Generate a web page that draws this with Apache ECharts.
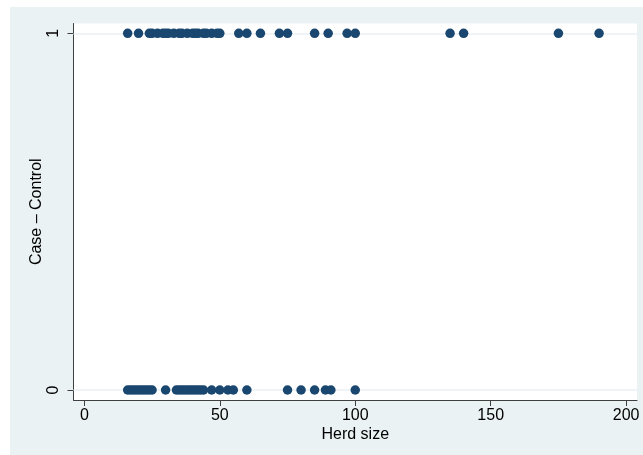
<!DOCTYPE html>
<html><head><meta charset="utf-8">
<script src="https://cdn.jsdelivr.net/npm/echarts@6/dist/echarts.min.js"></script>
<style>html,body{margin:0;padding:0;background:#fff;width:643px;height:455px;overflow:hidden}
#c{position:absolute;left:10px;top:7px;width:633px;height:448px}</style>
</head><body><div id="c"></div>
<script>
const xTicks = [0, 50, 100, 150, 200];
const yTicks = [0, 1];
const caseHerd = [16, 20, 24, 25, 27, 29, 30, 31, 33, 35, 36, 38, 40, 41, 42, 44, 45, 47, 49, 50, 57, 60, 65, 72, 75, 85, 90, 97, 100, 135, 140, 175, 190];
const controlHerd = [16, 17, 18, 19, 20, 21, 22, 23, 24, 25, 30, 34, 35, 36, 37, 38, 39, 40, 41, 42, 43, 44, 47, 50, 53, 55, 60, 75, 80, 85, 89, 91, 100];

const chart = echarts.init(document.getElementById('c'));
const font = 'Liberation Sans, Arial, sans-serif';
const axisCol = '#404040';
chart.setOption({
  animation: false,
  backgroundColor: '#EAF2F3',
  textStyle: { fontFamily: font },
  grid: { left: 63.5, top: 16.5, right: 6, bottom: 55, show: true, backgroundColor: '#ffffff', borderWidth: 0 },
  xAxis: {
    type: 'value', min: -4, max: 204,
    name: 'Herd size', nameLocation: 'middle', nameGap: 27, nameMoveOverlap: false,
    nameTextStyle: { fontSize: 16, color: '#000', fontFamily: font },
    axisLine: { show: true, onZero: false, lineStyle: { color: axisCol, width: 1 } },
    axisTick: { show: true, length: 6, customValues: xTicks, lineStyle: { color: axisCol } },
    axisLabel: { customValues: xTicks, fontSize: 16, color: '#000', margin: 8, fontFamily: font },
    splitLine: { show: false }
  },
  yAxis: {
    type: 'value', min: -0.028, max: 1.0275,
    name: 'Case – Control', nameLocation: 'middle', nameGap: 29, nameRotate: 90, nameMoveOverlap: false,
    nameTextStyle: { fontSize: 16, color: '#000', fontFamily: font },
    axisLine: { show: true, onZero: false, lineStyle: { color: axisCol, width: 1 } },
    axisTick: { show: true, length: 6, customValues: yTicks, lineStyle: { color: axisCol } },
    axisLabel: { customValues: yTicks, rotate: 90, fontSize: 16, color: '#000', margin: 12, fontFamily: font },
    splitLine: { show: false }
  },
  series: [
    {
      type: 'scatter', data: [], z: 1, silent: true,
      markLine: {
        z: 1, silent: true, symbol: 'none', label: { show: false }, animation: false,
        lineStyle: { color: '#EAF2F3', width: 1.5, type: 'solid' },
        data: yTicks.map(v => ({ yAxis: v }))
      }
    },
    {
      type: 'scatter', z: 3, symbolSize: 9.5,
      data: caseHerd.map(v => [v, 1]),
      itemStyle: { color: '#1A476F', opacity: 1 }
    },
    {
      type: 'scatter', z: 3, symbolSize: 9.5,
      data: controlHerd.map(v => [v, 0]),
      itemStyle: { color: '#1A476F', opacity: 1 }
    }
  ]
});
</script></body></html>
